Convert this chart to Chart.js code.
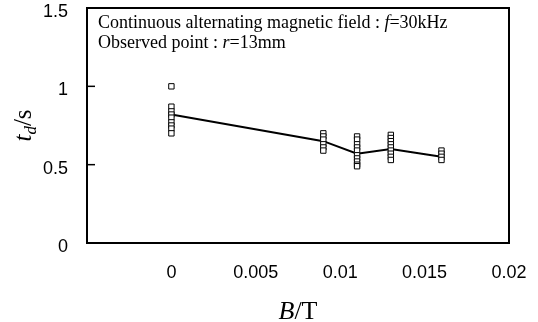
<!DOCTYPE html>
<html>
<head>
<meta charset="utf-8">
<script src="https://cdn.jsdelivr.net/npm/chart.js@4/dist/chart.umd.min.js"></script>
<style>
  html, body { margin: 0; padding: 0; background: #fff; }
  #wrap { width: 538px; height: 322px; position: relative; }
</style>
</head>
<body>
<div id="wrap"><canvas id="c" width="538" height="322"></canvas></div>
<script>
// ---- data ----
const B_VALUES = [0, 0.009, 0.011, 0.013, 0.016];          // magnetic flux density B / T
const TD_AT_B0     = [1.00, 0.87, 0.84, 0.82, 0.80, 0.77, 0.75, 0.73, 0.70];
const TD_AT_B0009  = [0.70, 0.68, 0.66, 0.63, 0.61, 0.59];
const TD_AT_B0011  = [0.68, 0.66, 0.63, 0.61, 0.59, 0.56, 0.54, 0.52, 0.50, 0.49];
const TD_AT_B0013  = [0.69, 0.67, 0.65, 0.63, 0.61, 0.59, 0.57, 0.55, 0.53];
const TD_AT_B0016  = [0.59, 0.57, 0.55, 0.53];
const TD_MEAN      = [0.82, 0.65, 0.57, 0.60, 0.55];
const X_TICKS = [-0.005, 0, 0.005, 0.01, 0.015, 0.02];
const Y_TICKS = [0, 0.5, 1, 1.5];
const NOTE_LINE1 = [["Continuous alternating magnetic field : ", false], ["f", true], ["=30kHz", false]];
const NOTE_LINE2 = [["Observed point : ", false], ["r", true], ["=13mm", false]];

const groups = [TD_AT_B0, TD_AT_B0009, TD_AT_B0011, TD_AT_B0013, TD_AT_B0016];
const obsPoints = [];
groups.forEach((g, i) => g.forEach(v => obsPoints.push({ x: B_VALUES[i], y: v })));
const meanPoints = B_VALUES.map((b, i) => ({ x: b, y: TD_MEAN[i] }));

const SERIF = '"Liberation Serif", "Times New Roman", serif';
const SANS = '"Liberation Sans", Arial, sans-serif';

function drawRuns(ctx, runs, x, y, size) {
  let cx = x;
  runs.forEach(([t, it]) => {
    ctx.font = (it ? 'italic ' : '') + size + 'px ' + SERIF;
    ctx.fillText(t, cx, y);
    cx += ctx.measureText(t).width;
  });
  return cx;
}
function runsWidth(ctx, runs, size) {
  let w = 0;
  runs.forEach(([t, it]) => {
    ctx.font = (it ? 'italic ' : '') + size + 'px ' + SERIF;
    w += ctx.measureText(t).width;
  });
  return w;
}
function noPad(s) { s.paddingTop = 0; s.paddingBottom = 0; s.paddingLeft = 0; s.paddingRight = 0; }

const decor = {
  id: 'decor',
  afterDraw(chart) {
    const { ctx, chartArea: a, scales } = chart;
    ctx.save();
    ctx.strokeStyle = '#000';
    ctx.lineWidth = 2;
    ctx.strokeRect(a.left, a.top, a.right - a.left, a.bottom - a.top);
    ctx.lineWidth = 1.5;
    Y_TICKS.forEach(v => {
      if (v === 0 || v === 1.5) return;
      const py = scales.y.getPixelForValue(v);
      ctx.beginPath(); ctx.moveTo(a.left, py); ctx.lineTo(a.left + 8, py); ctx.stroke();
    });
    ctx.fillStyle = '#000';
    ctx.textBaseline = 'alphabetic';
    drawRuns(ctx, NOTE_LINE1, a.left + 11, a.top + 20, 18);
    drawRuns(ctx, NOTE_LINE2, a.left + 11, a.top + 40, 18);
    const xr = [["B", true], ["/T", false]];
    const xw = runsWidth(ctx, xr, 26);
    drawRuns(ctx, xr, (a.left + a.right) / 2 - xw / 2, 319, 26);
    ctx.translate(31, (a.top + a.bottom) / 2);
    ctx.rotate(-Math.PI / 2);
    ctx.font = 'italic 25px ' + SERIF;
    const wt = ctx.measureText('t').width;
    ctx.font = 'italic 17px ' + SERIF;
    const wd = ctx.measureText('d').width;
    ctx.font = '25px ' + SERIF;
    const ws = ctx.measureText('/s').width;
    let sx = -(wt + wd + ws) / 2;
    ctx.font = 'italic 25px ' + SERIF; ctx.fillText('t', sx, 0); sx += wt;
    ctx.font = 'italic 17px ' + SERIF; ctx.fillText('d', sx, 5); sx += wd;
    ctx.font = '25px ' + SERIF; ctx.fillText('/s', sx, 0);
    ctx.restore();
  }
};

new Chart(document.getElementById('c'), {
  type: 'scatter',
  data: {
    datasets: [
      { data: meanPoints, showLine: true, borderColor: '#000', borderWidth: 2, pointRadius: 0, order: 2 },
      { data: obsPoints, showLine: false, pointStyle: 'rect', pointRadius: 3.8, pointBorderWidth: 1,
        pointBorderColor: '#000', pointBackgroundColor: '#fff', order: 1 }
    ]
  },
  options: {
    responsive: false,
    animation: false,
    devicePixelRatio: 1,
    layout: { autoPadding: false, padding: { top: 8, right: 29, left: 0, bottom: 0 } },
    plugins: { legend: { display: false }, tooltip: { enabled: false } },
    scales: {
      x: {
        type: 'linear',
        min: X_TICKS[0],
        max: X_TICKS[X_TICKS.length - 1],
        afterBuildTicks(s) { s.ticks = X_TICKS.map(v => ({ value: v })); },
        afterFit(s) { s.height = 79; noPad(s); },
        grid: { display: false, drawTicks: false },
        border: { display: false },
        ticks: {
          padding: 19, color: '#000', font: { family: SANS, size: 18 }, maxRotation: 0,
          callback: v => (v < -0.001 ? '' : String(Math.round(v * 1000) / 1000))
        }
      },
      y: {
        min: Y_TICKS[0],
        max: Y_TICKS[Y_TICKS.length - 1],
        afterBuildTicks(s) { s.ticks = Y_TICKS.map(v => ({ value: v })); },
        afterFit(s) { s.width = 87; noPad(s); },
        grid: { display: false, drawTicks: false },
        border: { display: false },
        ticks: { padding: 19, labelOffset: 4, color: '#000', font: { family: SANS, size: 18 }, callback: v => String(v) }
      }
    }
  },
  plugins: [decor]
});
</script>
</body>
</html>
